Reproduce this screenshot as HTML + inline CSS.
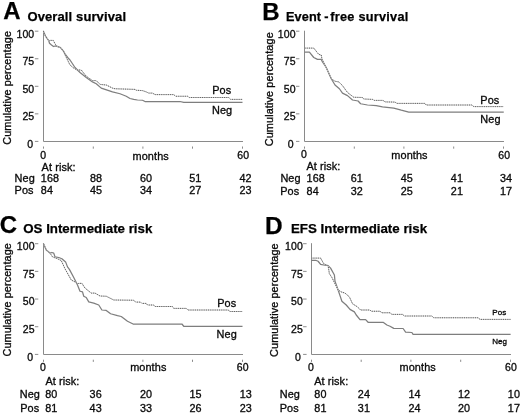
<!DOCTYPE html>
<html lang="en">
<head>
<meta charset="utf-8">
<title>Survival curves</title>
<style>
html,body{margin:0;padding:0;background:#fff;}
body{width:520px;height:417px;overflow:hidden;}
svg{display:block;}
text{font-family:"Liberation Sans", sans-serif;fill:#0a0a0a;stroke:#0a0a0a;stroke-width:0.32px;letter-spacing:0.1px;}
.b{font-weight:bold;fill:#000;stroke:#000;stroke-width:0.25px;letter-spacing:0;}
.ax{stroke:#8a8a8a;stroke-width:1;fill:none;}
.tk{stroke:#8c8c8c;stroke-width:1;fill:none;}
.neg{stroke:#7e7e7e;stroke-width:1.25;fill:none;stroke-linejoin:round;}
.posb{stroke:#c8c8c8;stroke-width:1;fill:none;stroke-linejoin:round;}
.pos{stroke:#5e5e5e;stroke-width:1;fill:none;stroke-dasharray:1 1.2;stroke-linejoin:round;}
</style>
</head>
<body>
<svg xmlns="http://www.w3.org/2000/svg" width="520" height="417" viewBox="0 0 520 417">
<rect x="0" y="0" width="520" height="417" fill="#ffffff"/>
<g id="panel-a">
<text class="b" x="3.2" y="19" font-size="24">A</text>
<text class="b" x="27.4" y="21" font-size="13" textLength="98.6" lengthAdjust="spacing">Overall survival</text>
<path class="ax" d="M43.5 30.7V141.5H243"/>
<path class="tk" d="M34.9 31.2H38.4"/><text transform="translate(34.3 37.7) scale(0.94 1)" font-size="11.2" text-anchor="end">100</text>
<path class="tk" d="M34.9 58.75H38.4"/><text transform="translate(34.3 65.25) scale(0.94 1)" font-size="11.2" text-anchor="end">75</text>
<path class="tk" d="M34.9 86.3H38.4"/><text transform="translate(34.3 92.8) scale(0.94 1)" font-size="11.2" text-anchor="end">50</text>
<path class="tk" d="M34.9 113.85H38.4"/><text transform="translate(34.3 120.35) scale(0.94 1)" font-size="11.2" text-anchor="end">25</text>
<path class="tk" d="M34.9 141.4H38.4"/><text transform="translate(33.1 147.9) scale(0.94 1)" font-size="11.2" text-anchor="end">0</text>
<path class="tk" d="M43.5 146.5V148.7"/><path class="tk" d="M93.3 146.5V148.7"/><path class="tk" d="M142.9 146.5V148.7"/><path class="tk" d="M192.5 146.5V148.7"/><path class="tk" d="M242.5 146.5V148.7"/>
<text x="43.2" y="158.6" font-size="10.5" text-anchor="middle">0</text><text x="150.7" y="159.8" font-size="10.9" text-anchor="middle">months</text><text x="243.2" y="159" font-size="10.5" text-anchor="middle">60</text>
<text x="10.7" y="87.8" font-size="10.88" text-anchor="middle" transform="rotate(-90 10.7 87.8)">Cumulative percentage</text>
<text x="41.6" y="171" font-size="10.9">At risk:</text>
<text x="14.6" y="182.4" font-size="10.9">Neg</text><text x="40.8" y="182.4" font-size="10.8">168</text><text x="89.9" y="182.4" font-size="10.8">88</text><text x="139.9" y="182.4" font-size="10.8">60</text><text x="189.2" y="182.4" font-size="10.8">51</text><text x="239.5" y="182.4" font-size="10.8">42</text>
<text x="14.6" y="193.6" font-size="10.9">Pos</text><text x="40.8" y="193.6" font-size="10.8">84</text><text x="89.9" y="193.6" font-size="10.8">45</text><text x="139.9" y="193.6" font-size="10.8">34</text><text x="189.2" y="193.6" font-size="10.8">27</text><text x="239.5" y="193.6" font-size="10.8">23</text>
<text x="212.2" y="93.7" font-size="10.9">Pos</text><text x="212" y="113.8" font-size="10.9">Neg</text>
<polyline class="neg" points="43.4,31.2 45.5,36.1 48.9,41 49.5,43.3 51.5,45 53.5,46.5 55.85,45.9 60.5,47.6 63.9,51.7 65,54 68.8,58.8 70,60 75,67.5 80,72.5 86.25,77.5 92.5,81.9 96.25,83.75 101.25,88.1 105,89.4 112.5,91.9 120,93.75 126.25,96.25 130,98.5 133.75,99.4 137.5,100 142.5,100.25 145,101.5 180,101.5 183.75,102.4 242.5,102.4"/>
<polyline class="posb" points="43.4,31.2 45.5,36.1 48.9,41 50.1,40.4 53.25,40.4 55.3,44.2 56.5,46 60.5,47.6 63,50.5 66,56.8 70,65 73.75,68.1 77,70 81.25,70 86.25,76.25 92.5,80.6 96.25,80.6 100,84.4 106.25,85 112.5,88.1 115,88.75 135,89.4 136.25,90.25 142.5,90.6 146.25,91.9 148.75,93.1 152.5,93.1 155,94.6 173.75,94.6 175.6,96.25 187.5,96.25 189.4,97.5 228.75,97.5 230.6,99.4 242.5,99.4"/>
<polyline class="pos" points="43.4,31.2 45.5,36.1 48.9,41 50.1,40.4 53.25,40.4 55.3,44.2 56.5,46 60.5,47.6 63,50.5 66,56.8 70,65 73.75,68.1 77,70 81.25,70 86.25,76.25 92.5,80.6 96.25,80.6 100,84.4 106.25,85 112.5,88.1 115,88.75 135,89.4 136.25,90.25 142.5,90.6 146.25,91.9 148.75,93.1 152.5,93.1 155,94.6 173.75,94.6 175.6,96.25 187.5,96.25 189.4,97.5 228.75,97.5 230.6,99.4 242.5,99.4"/>
</g>
<g id="panel-b">
<text class="b" x="262.3" y="20.3" font-size="24">B</text>
<text class="b" y="20.9" font-size="12.7"><tspan x="286" textLength="35.1" lengthAdjust="spacing">Event</tspan><tspan x="324.3">-</tspan><tspan x="330.3" textLength="78" lengthAdjust="spacing">free survival</tspan></text>
<path class="ax" d="M304.5 30.7V141.5H504"/>
<path class="tk" d="M296 31.2H299.4"/><text transform="translate(295.6 37.6) scale(0.94 1)" font-size="11.2" text-anchor="end">100</text>
<path class="tk" d="M296 58.75H299.4"/><text transform="translate(295.6 65.15) scale(0.94 1)" font-size="11.2" text-anchor="end">75</text>
<path class="tk" d="M296 86.3H299.4"/><text transform="translate(295.6 92.7) scale(0.94 1)" font-size="11.2" text-anchor="end">50</text>
<path class="tk" d="M296 113.85H299.4"/><text transform="translate(295.6 120.25) scale(0.94 1)" font-size="11.2" text-anchor="end">25</text>
<path class="tk" d="M296 141.4H299.4"/><text transform="translate(293.6 147.8) scale(0.94 1)" font-size="11.2" text-anchor="end">0</text>
<path class="tk" d="M304.5 146.5V148.7"/><path class="tk" d="M354.3 146.5V148.7"/><path class="tk" d="M403.9 146.5V148.7"/><path class="tk" d="M453.7 146.5V148.7"/><path class="tk" d="M503.5 146.5V148.7"/>
<text x="304.1" y="158.4" font-size="10.5" text-anchor="middle">0</text><text x="409.5" y="159.1" font-size="10.9" text-anchor="middle">months</text><text x="504.2" y="159.1" font-size="10.5" text-anchor="middle">60</text>
<text x="272.7" y="89.2" font-size="10.9" text-anchor="middle" transform="rotate(-90 272.7 89.2)">Cumulative percentage</text>
<text x="306.4" y="170.1" font-size="10.9">At risk:</text>
<text x="280.4" y="182.1" font-size="10.9">Neg</text><text x="306.6" y="182.1" font-size="10.8">168</text><text x="350.7" y="182.1" font-size="10.8">61</text><text x="400.7" y="182.1" font-size="10.8">45</text><text x="450.8" y="182.1" font-size="10.8">41</text><text x="500" y="182.1" font-size="10.8">34</text>
<text x="280.2" y="195.1" font-size="10.9">Pos</text><text x="306.6" y="195.1" font-size="10.8">84</text><text x="350.7" y="195.1" font-size="10.8">32</text><text x="400.7" y="195.1" font-size="10.8">25</text><text x="450.8" y="195.1" font-size="10.8">21</text><text x="500" y="195.1" font-size="10.8">17</text>
<text x="480.3" y="103.7" font-size="10.9">Pos</text><text x="480.3" y="123.3" font-size="10.9">Neg</text>
<polyline class="neg" points="304.6,52.1 309.4,52.1 313.75,57.5 317.5,59.4 321.25,59.4 322.5,61.9 326.25,67.5 331.25,78.75 335,85 339.4,88.75 342.5,93.1 347.5,95.6 352.5,100 358.1,101 360.6,103.75 367.5,105 376.25,105.6 382.5,106.9 393.75,108.1 401.25,110.2 408.75,112.1 503.75,112.1"/>
<polyline class="posb" points="304.6,48.1 313.75,48.1 318.75,54.4 321.25,55 321.9,58.75 325,65 331.25,78.75 335,81.25 338.75,81.9 342.5,85.6 347.5,92.5 353.75,97.25 362.5,97.5 363.75,99 372.5,99.4 374.4,100.4 383.1,100.4 385,101.9 395,102.1 396.9,103.4 425,103.4 426.25,105 471.9,105 473.75,106.6 503.5,106.6"/>
<polyline class="pos" points="304.6,48.1 313.75,48.1 318.75,54.4 321.25,55 321.9,58.75 325,65 331.25,78.75 335,81.25 338.75,81.9 342.5,85.6 347.5,92.5 353.75,97.25 362.5,97.5 363.75,99 372.5,99.4 374.4,100.4 383.1,100.4 385,101.9 395,102.1 396.9,103.4 425,103.4 426.25,105 471.9,105 473.75,106.6 503.5,106.6"/>
</g>
<g id="panel-c">
<text class="b" x="-0.2" y="232.7" font-size="24">C</text>
<text class="b" x="23.3" y="233.1" font-size="13.3" textLength="129" lengthAdjust="spacing">OS Intermediate risk</text>
<path class="ax" d="M43.5 243.2V354.5H243"/>
<path class="tk" d="M34.9 243.7H38.3"/><text transform="translate(34.6 249.9) scale(1 1)" font-size="10.5" text-anchor="end">100</text>
<path class="tk" d="M34.9 271.38H38.3"/><text transform="translate(34.6 277.58) scale(1 1)" font-size="10.5" text-anchor="end">75</text>
<path class="tk" d="M34.9 299.05H38.3"/><text transform="translate(34.6 305.25) scale(1 1)" font-size="10.5" text-anchor="end">50</text>
<path class="tk" d="M34.9 326.72H38.3"/><text transform="translate(34.6 332.93) scale(1 1)" font-size="10.5" text-anchor="end">25</text>
<path class="tk" d="M34.9 354.4H38.3"/><text transform="translate(33.2 360.6) scale(1 1)" font-size="10.5" text-anchor="end">0</text>
<path class="tk" d="M43.5 359.7V361.9"/><path class="tk" d="M93.3 359.7V361.9"/><path class="tk" d="M142.9 359.7V361.9"/><path class="tk" d="M192.5 359.7V361.9"/><path class="tk" d="M242.5 359.7V361.9"/>
<text x="43" y="370.5" font-size="10.5" text-anchor="middle">0</text><text x="148.3" y="371.3" font-size="10.9" text-anchor="middle">months</text><text x="242.7" y="371.3" font-size="10.5" text-anchor="middle">60</text>
<text x="10.6" y="299.8" font-size="10.84" text-anchor="middle" transform="rotate(-90 10.6 299.8)">Cumulative percentage</text>
<text x="45.4" y="385" font-size="10.9">At risk:</text>
<text x="19.7" y="397.8" font-size="10.9">Neg</text><text x="45.2" y="397.8" font-size="10.8">80</text><text x="89.6" y="397.8" font-size="10.8">36</text><text x="139.9" y="397.8" font-size="10.8">20</text><text x="189.5" y="397.8" font-size="10.8">15</text><text x="239.7" y="397.8" font-size="10.8">13</text>
<text x="20.2" y="412.2" font-size="10.9">Pos</text><text x="45.2" y="412.2" font-size="10.8">81</text><text x="89.6" y="412.2" font-size="10.8">43</text><text x="139.9" y="412.2" font-size="10.8">33</text><text x="189.5" y="412.2" font-size="10.8">26</text><text x="239.7" y="412.2" font-size="10.8">23</text>
<text x="217.2" y="306.8" font-size="10.9">Pos</text><text x="216.6" y="338.1" font-size="10.9">Neg</text>
<polyline class="neg" points="43.5,243.75 46.25,250 50,253.1 51.9,252.5 53.75,253.1 55,256.9 58.75,257.5 61.9,258.75 65.6,261.9 67.5,266.9 69.4,269.4 73.75,277.5 77.5,285 80,291.25 82.5,291.9 83.75,296.25 86.25,297.5 88.75,301.9 93.75,303.1 98.75,305 101.9,310 106.25,310.4 110.6,313.75 117.5,315.6 121.25,316.5 127.5,321.25 133.1,324 181.9,324 183.75,326.25 242.5,326.25"/>
<polyline class="posb" points="43.5,243.75 46.25,250 50,253.1 52.5,256.9 57.5,258.75 61.25,260.6 65,268.75 71.25,280 75,281.9 77.5,283.5 81.9,283.3 85,288.1 91.25,293.1 95,293.1 100,296 106.25,296.25 113.75,300 133.75,300.25 135.6,302.1 140.6,302.1 141.9,303.4 146.25,303.4 147.5,305 153.75,305 155,306.5 172.5,306.5 173.75,308.4 186.25,308.4 188.1,310 228.1,310 230,311.5 242.5,311.5"/>
<polyline class="pos" points="43.5,243.75 46.25,250 50,253.1 52.5,256.9 57.5,258.75 61.25,260.6 65,268.75 71.25,280 75,281.9 77.5,283.5 81.9,283.3 85,288.1 91.25,293.1 95,293.1 100,296 106.25,296.25 113.75,300 133.75,300.25 135.6,302.1 140.6,302.1 141.9,303.4 146.25,303.4 147.5,305 153.75,305 155,306.5 172.5,306.5 173.75,308.4 186.25,308.4 188.1,310 228.1,310 230,311.5 242.5,311.5"/>
</g>
<g id="panel-d">
<text class="b" x="265" y="233.6" font-size="24.4">D</text>
<text class="b" x="291" y="233.4" font-size="13.3" textLength="136.1" lengthAdjust="spacing">EFS Intermediate risk</text>
<path class="ax" d="M311.5 243.2V354.5H511"/>
<path class="tk" d="M303.1 243.7H306.6"/><text transform="translate(302.9 250) scale(1 1)" font-size="10.5" text-anchor="end">100</text>
<path class="tk" d="M303.1 271.38H306.6"/><text transform="translate(302.9 277.68) scale(1 1)" font-size="10.5" text-anchor="end">75</text>
<path class="tk" d="M303.1 299.05H306.6"/><text transform="translate(302.9 305.35) scale(1 1)" font-size="10.5" text-anchor="end">50</text>
<path class="tk" d="M303.1 326.72H306.6"/><text transform="translate(302.9 333.02) scale(1 1)" font-size="10.5" text-anchor="end">25</text>
<path class="tk" d="M303.1 354.4H306.6"/><text transform="translate(300.9 360.7) scale(1 1)" font-size="10.5" text-anchor="end">0</text>
<path class="tk" d="M311.5 359.7V361.9"/><path class="tk" d="M361.2 359.7V361.9"/><path class="tk" d="M410.9 359.7V361.9"/><path class="tk" d="M460.7 359.7V361.9"/><path class="tk" d="M510.5 359.7V361.9"/>
<text x="311" y="370.5" font-size="10.5" text-anchor="middle">0</text><text x="417.7" y="371" font-size="10.9" text-anchor="middle">months</text><text x="511" y="371" font-size="10.5" text-anchor="middle">60</text>
<text x="278.4" y="300.1" font-size="10.85" text-anchor="middle" transform="rotate(-90 278.4 300.1)">Cumulative percentage</text>
<text x="314.2" y="385" font-size="10.9">At risk:</text>
<text x="279.7" y="397.7" font-size="10.9">Neg</text><text x="314.3" y="397.7" font-size="10.8">80</text><text x="357.8" y="397.7" font-size="10.8">24</text><text x="408.5" y="397.7" font-size="10.8">14</text><text x="457.9" y="397.7" font-size="10.8">12</text><text x="507.8" y="397.7" font-size="10.8">10</text>
<text x="279.7" y="411.8" font-size="10.9">Pos</text><text x="314.3" y="411.8" font-size="10.8">81</text><text x="357.8" y="411.8" font-size="10.8">31</text><text x="408.5" y="411.8" font-size="10.8">24</text><text x="457.9" y="411.8" font-size="10.8">20</text><text x="507.8" y="411.8" font-size="10.8">17</text>
<text x="492.3" y="315.2" font-size="8">Pos</text><text x="492.2" y="344.1" font-size="8">Neg</text>
<polyline class="neg" points="311.25,260.25 315.6,260.25 318.1,261.25 320.6,264.4 325,265.25 328.1,265.6 330.6,268.1 334.4,275 335,281.25 338.1,290 340,295.6 341.9,301.25 346.25,305 350,309.4 354.4,311.9 356.25,315 360,319.6 365.6,319.6 368.1,322.25 383.1,322.25 386.9,325 390,326.25 393.75,328.4 403.1,328.5 405.6,332.1 411.9,332.5 413.1,334.4 510.6,334.4"/>
<polyline class="posb" points="311.25,258.1 320.6,258.1 323.75,263.75 328.1,265.6 329.4,273.75 331.9,277.5 334.4,282.5 338.1,290 341.25,291.9 345,293.1 349.4,296.9 352.5,303.75 357.5,306.9 360.6,310 370,310 371.25,311.25 380,311.25 381.9,312.75 390,312.75 391.9,314.4 402.5,314.4 404.4,316 431.9,316 433.75,317.75 478.1,317.75 480,319.4 510.5,319.4"/>
<polyline class="pos" points="311.25,258.1 320.6,258.1 323.75,263.75 328.1,265.6 329.4,273.75 331.9,277.5 334.4,282.5 338.1,290 341.25,291.9 345,293.1 349.4,296.9 352.5,303.75 357.5,306.9 360.6,310 370,310 371.25,311.25 380,311.25 381.9,312.75 390,312.75 391.9,314.4 402.5,314.4 404.4,316 431.9,316 433.75,317.75 478.1,317.75 480,319.4 510.5,319.4"/>
</g>
</svg>
</body>
</html>
